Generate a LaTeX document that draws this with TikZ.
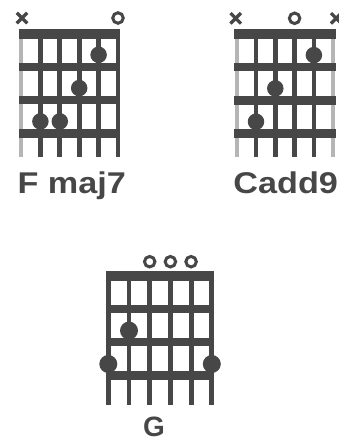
\documentclass[tikz,border=0pt]{standalone}
\usepackage{fontspec}
\setsansfont{Liberation Sans}
\usetikzlibrary{shapes.misc}
\definecolor{boardgray}{HTML}{474747}
\definecolor{mutedgray}{HTML}{B5B5B5}
\tikzset{every node/.style={inner sep=0pt,outer sep=0pt}}
\tikzset{gstring/.style={draw=boardgray,line width=4.8pt}}
\tikzset{mutedstring/.style={draw=mutedgray,line width=4pt}}
\tikzset{fretbar/.style={draw=boardgray,line width=8.5pt}}
\tikzset{nutbar/.style={draw=boardgray,line width=10pt}}
\tikzset{fingerdot/.style={circle,fill=boardgray,minimum size=16.5pt}}
\tikzset{mutemark/.style={cross out,draw=boardgray,line width=3.2pt,minimum size=10.5pt}}
\tikzset{openmark/.style={circle,draw=boardgray,line width=3pt,minimum size=10.5pt}}
\tikzset{chordname/.style={anchor=base,text=boardgray,font=\sffamily\bfseries\fontsize{30}{30}\selectfont}}

\begin{document}
\begin{tikzpicture}[x=1pt,y=-1pt]
  \useasboundingbox (0,0) rectangle (339,442);

  % F maj7
  \begin{scope}[shift={(21,33.5)}]
    \draw[mutedstring] (0,0) -- (0,123.5);
    \foreach \s in {1,...,5}
      \draw[gstring] (\s*19.4,0) -- (\s*19.4,123.5);
    \foreach \f in {1,2,3}
      \draw[fretbar] (-2.4,\f*33.3) -- (99.4,\f*33.3);
    \draw[nutbar] (-2.4,0) -- (99.4,0);
    \node[mutemark] (fm-x1) at (1,-15.5) {};
    \node[openmark] (fm-o6) at (97,-15.5) {};
    \node[fingerdot] (fm-d2) at (19.4,87.9) {};
    \node[fingerdot] (fm-d3) at (38.8,87.9) {};
    \node[fingerdot] (fm-d4) at (58.2,54.6) {};
    \node[fingerdot] (fm-d5) at (77.6,21.3) {};
  \end{scope}
  \node[chordname] (fmaj7) at (71.7,193.3) {\scalebox{1.14}[1]{F maj7}};

  % Cadd9
  \begin{scope}[shift={(236.7,33.8)}]
    \draw[mutedstring] (0,0) -- (0,123.5);
    \draw[mutedstring] (96.5,0) -- (96.5,123.5);
    \foreach \s in {1,...,4}
      \draw[gstring] (\s*19.3,0) -- (\s*19.3,123.5);
    \foreach \f in {1,2,3}
      \draw[fretbar] (-2.4,\f*33.3) -- (98.9,\f*33.3);
    \draw[nutbar] (-2.4,0) -- (98.9,0);
    \node[mutemark] (ca-x1) at (-1,-15.5) {};
    \node[openmark] (ca-o4) at (57.9,-15.5) {};
    \node[mutemark] (ca-x6) at (99.5,-15.5) {};
    \node[fingerdot] (ca-d2) at (19.3,87.9) {};
    \node[fingerdot] (ca-d3) at (38.6,54.6) {};
    \node[fingerdot] (ca-d5) at (77.2,21.3) {};
  \end{scope}
  \node[chordname] (cadd9) at (285.7,193.3) {\scalebox{1.14}[1]{Cadd9}};

  % G
  \begin{scope}[shift={(108.3,276)}]
    \foreach \s in {0,...,5}
      \draw[gstring] (\s*20.7,0) -- (\s*20.7,129);
    \foreach \f in {1,2,3}
      \draw[fretbar] (-2.4,\f*33.1) -- (105.9,\f*33.1);
    \draw[nutbar] (-2.4,0) -- (105.9,0);
    \foreach \s in {3,4,5}
      \node[openmark] (g-o\s) at ({(\s-1)*20.7},-14.3) {};
    \node[fingerdot,minimum size=18pt] (g-d1) at (0,88) {};
    \node[fingerdot,minimum size=18pt] (g-d2) at (20.7,54.6) {};
    \node[fingerdot,minimum size=18pt] (g-d6) at (103.5,88) {};
  \end{scope}
  \node[chordname] (gmaj) at (154,436.5) {\fontsize{28}{28}\selectfont G};
\end{tikzpicture}
\end{document}
